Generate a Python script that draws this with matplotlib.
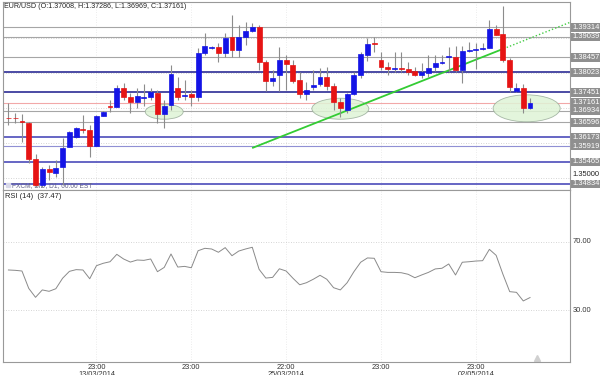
import numpy as np
import matplotlib.pyplot as plt
from matplotlib.patches import Ellipse

plt.rcParams['font.family'] = ['Liberation Sans', 'DejaVu Sans']

# daily candles
opens = [1.36720, 1.36718, 1.36643, 1.36586, 1.35539, 1.34804, 1.35253, 1.35156, 1.35327, 1.35899,
         1.36168, 1.36414, 1.36377, 1.35928, 1.36786, 1.37072, 1.37043, 1.37570, 1.37329, 1.37169,
         1.37292, 1.37329, 1.37436, 1.36835, 1.37092, 1.37570, 1.37358, 1.37398, 1.37329, 1.38588,
         1.38722, 1.38759, 1.38588, 1.39028, 1.38665, 1.39045, 1.39217, 1.39314, 1.38313, 1.37787,
         1.37950, 1.38379, 1.38236, 1.37807, 1.37398, 1.37615, 1.37693, 1.37884, 1.37644, 1.37186,
         1.36949, 1.37398, 1.37950, 1.38522, 1.38874, 1.38379, 1.38170, 1.38130, 1.38150, 1.38122,
         1.38064, 1.37950, 1.38016, 1.38187, 1.38302, 1.38456, 1.38473, 1.38093, 1.38636, 1.38665,
         1.38694, 1.38731, 1.39257, 1.39114, 1.38379, 1.37501, 1.37570, 1.37008]
highs = [1.37149, 1.36863, 1.36835, 1.36614, 1.35691, 1.35327, 1.35376, 1.35519, 1.36148, 1.36340,
         1.36471, 1.36806, 1.36520, 1.36806, 1.36920, 1.37235, 1.37665, 1.37713, 1.37427, 1.37570,
         1.37693, 1.37570, 1.37521, 1.37235, 1.38236, 1.37901, 1.37807, 1.37521, 1.38714, 1.39143,
         1.38779, 1.38865, 1.39143, 1.39666, 1.39380, 1.39474, 1.39429, 1.39380, 1.38379, 1.38093,
         1.38759, 1.38522, 1.38379, 1.38044, 1.37758, 1.38093, 1.38142, 1.38187, 1.37713, 1.37284,
         1.37427, 1.38044, 1.38616, 1.39000, 1.39045, 1.38616, 1.38330, 1.38616, 1.38616, 1.38330,
         1.38187, 1.38302, 1.38522, 1.38522, 1.38522, 1.38759, 1.38779, 1.38779, 1.38902, 1.38874,
         1.38874, 1.39523, 1.39380, 1.39923, 1.38428, 1.37730, 1.37693, 1.37286]
lows = [1.36520, 1.36577, 1.36042, 1.35433, 1.34747, 1.34747, 1.34947, 1.35041, 1.34805, 1.35890,
        1.36140, 1.36291, 1.35614, 1.35920, 1.36770, 1.36900, 1.37035, 1.37235, 1.36863, 1.37015,
        1.37063, 1.37235, 1.36586, 1.36443, 1.36949, 1.37235, 1.37235, 1.37063, 1.37206, 1.38522,
        1.38694, 1.38330, 1.38473, 1.38456, 1.38473, 1.38808, 1.39188, 1.38093, 1.37501, 1.37635,
        1.37501, 1.37521, 1.37721, 1.37284, 1.37235, 1.37521, 1.37635, 1.37521, 1.36949, 1.36740,
        1.36855, 1.37378, 1.37856, 1.38350, 1.38616, 1.38093, 1.37950, 1.38044, 1.38044, 1.37950,
        1.37921, 1.37856, 1.37884, 1.38073, 1.38265, 1.38044, 1.38044, 1.37730, 1.38608, 1.38113,
        1.38665, 1.38714, 1.39094, 1.38330, 1.37472, 1.37472, 1.36872, 1.36969]
closes = [1.36712, 1.36710, 1.36614, 1.35548, 1.34804, 1.35253, 1.35167, 1.35299, 1.35871, 1.36311,
          1.36434, 1.36377, 1.35928, 1.36777, 1.36892, 1.37043, 1.37570, 1.37329, 1.37169, 1.37349,
          1.37321, 1.37455, 1.36835, 1.37072, 1.37979, 1.37329, 1.37387, 1.37321, 1.38571, 1.38779,
          1.38742, 1.38588, 1.39017, 1.38665, 1.39028, 1.39208, 1.39314, 1.38330, 1.37779, 1.37856,
          1.38379, 1.38256, 1.37787, 1.37398, 1.37521, 1.37664, 1.37884, 1.37644, 1.37186, 1.37015,
          1.37398, 1.37941, 1.38542, 1.38837, 1.38845, 1.38187, 1.38130, 1.38150, 1.38130, 1.38044,
          1.37950, 1.38044, 1.38142, 1.38302, 1.38330, 1.38493, 1.38093, 1.38636, 1.38665, 1.38694,
          1.38722, 1.39257, 1.39094, 1.38379, 1.37598, 1.37570, 1.37015, 1.37161]

rsi = [53.5, 53.3, 52.9, 42.8, 37.6, 41.9, 41.1, 42.6, 48.7, 52.7,
       53.7, 53.5, 48.4, 56.0, 57.4, 58.3, 62.6, 59.9, 58.1, 59.3,
       59.1, 59.9, 52.5, 55.0, 62.8, 55.2, 55.6, 54.8, 64.7, 66.1,
       65.7, 63.8, 66.5, 61.8, 64.5, 65.7, 66.7, 53.9, 48.8, 49.2,
       54.2, 52.9, 48.7, 44.9, 46.1, 48.1, 50.4, 48.1, 43.2, 41.9,
       46.1, 52.5, 58.0, 60.5, 60.3, 52.5, 52.1, 52.1, 51.9, 51.0,
       49.0, 50.6, 52.1, 54.1, 54.5, 57.0, 50.6, 58.0, 58.3, 58.7,
       58.9, 65.5, 62.0, 51.0, 40.9, 40.5, 35.5, 37.47]

# support / resistance levels drawn across the chart
levels = [1.39314, 1.39039, 1.38457, 1.38023, 1.37451, 1.37161,
          1.36934, 1.36596, 1.36173, 1.35919, 1.35465, 1.34834]
level_kind = ['grey', 'grey', 'grey', 'navy', 'navy', 'last',
              'grey', 'grey', 'blue', 'lightblue', 'blue', 'blue']
grid_prices = [1.35, 1.36, 1.37, 1.38, 1.39]

# trend line (candle index, price) and highlighted zones
trend_start = (36.1, 1.35871)
trend_break = (72.6, 1.38665)
trend_end = (82.9, 1.39457)
zone_centres = [(23.0, 1.36900), (49.0, 1.36986), (76.5, 1.36998)]
zone_sizes = [(5.6, 0.00429), (8.4, 0.0060), (9.9, 0.0077)]

tick_idx = [13, 27, 41, 55, 69]
tick_labels = ['23:00\n13/03/2014', '23:00', '22:00\n25/03/2014', '23:00', '23:00\n02/05/2014']

kind_colors = {'grey': '#a6a6a6', 'navy': '#1a1a8c', 'last': '#f2a8a8',
               'blue': '#3c3cb4', 'lightblue': '#9090d4'}

x = np.arange(len(opens))
o = np.array(opens)
c = np.array(closes)
up = c >= o
body_col = np.where(up, '#1414e6', '#e61414')

fig = plt.figure(figsize=(6, 3.75), dpi=100)
ax = fig.add_axes([0.005, 0.4933, 0.945, 0.5013])
ax_rsi = fig.add_axes([0.005, 0.0347, 0.945, 0.4586], sharex=ax)

# price panel
for p in grid_prices:
    ax.axhline(p, color='#c8c8c8', lw=0.6, ls=(0, (1, 2)), zorder=0)
for t in tick_idx:
    ax.axvline(t, color='#e6e6e6', lw=0.6, ls=(0, (1, 2)), zorder=0)
for p, k in zip(levels, level_kind):
    lw = 1.1 if k in ('navy', 'blue') else 0.8
    ax.axhline(p, color=kind_colors[k], lw=lw, zorder=1)

for (cx, cy), (w, h) in zip(zone_centres, zone_sizes):
    ax.add_patch(Ellipse((cx, cy), w, h, facecolor='#dff4d6', edgecolor='#98ac98',
                         lw=0.6, alpha=0.85, zorder=2))

ax.plot([trend_start[0], trend_break[0]], [trend_start[1], trend_break[1]],
        color='#33cc33', lw=1.3, zorder=3)
ax.plot([trend_break[0], trend_end[0]], [trend_break[1], trend_end[1]],
        color='#44cc44', lw=1.0, ls=(0, (1, 1.5)), zorder=3)

ax.vlines(x, lows, highs, color='#8c8c8c', lw=0.8, zorder=4)
ax.bar(x, np.abs(c - o), bottom=np.minimum(o, c), width=0.72, color=body_col,
       edgecolor=body_col, linewidth=0.5, zorder=5)

ax.set_xlim(-0.8, 82.9)
ax.set_ylim(1.34661, 1.40038)
ax.set_xticks(tick_idx)
ax.tick_params(axis='x', labelbottom=False, length=0)
ax.set_yticks([])
for s in ax.spines.values():
    s.set_color('#999999')
    s.set_linewidth(0.8)

ytr = ax.get_yaxis_transform()
for p in levels:
    ax.text(1.004, p, f'{p:.5f}', transform=ytr, ha='left', va='center', fontsize=5.4,
            color='white', bbox=dict(boxstyle='square,pad=0.12', fc='#8f8f8f', ec='none'),
            clip_on=False)
ax.text(1.004, 1.35, '1.35000', transform=ytr, ha='left', va='bottom', fontsize=5.4,
        color='#222222', clip_on=False)

ax.text(0.002, 0.975, 'EUR/USD (O:1.37008, H:1.37286, L:1.36969, C:1.37161)',
        transform=ax.transAxes, ha='left', va='center', fontsize=5.1, color='#222222')
ax.text(0.016, 0.025, 'FXCM, BID, D1, 00:00 EST', transform=ax.transAxes,
        ha='left', va='center', fontsize=4.8, color='#666688')
ax.plot([0.009], [0.025], marker='s', ms=3, color='#d8d8e8', transform=ax.transAxes,
        clip_on=False)

# RSI panel
ax_rsi.plot(x, rsi, color='#8a8a8a', lw=0.7)
for lvl in (70, 30):
    ax_rsi.axhline(lvl, color='#c8c8c8', lw=0.6, ls=(0, (1, 2)))
for t in tick_idx:
    ax_rsi.axvline(t, color='#e6e6e6', lw=0.6, ls=(0, (1, 2)), zorder=0)
ax_rsi.set_ylim(0, 100)
ax_rsi.set_yticks([])
ax_rsi.set_xticks(tick_idx)
ax_rsi.set_xticklabels(tick_labels, fontsize=5.3, color='#333333', linespacing=1.0, va='top')
ax_rsi.tick_params(axis='x', length=0, pad=1.5)
for s in ax_rsi.spines.values():
    s.set_color('#999999')
    s.set_linewidth(0.8)
rtr = ax_rsi.get_yaxis_transform()
for lvl in (70, 30):
    ax_rsi.text(1.004, lvl, f'{lvl:.2f}', transform=rtr, ha='left', va='center',
                fontsize=5.4, color='#333333', clip_on=False)
ax_rsi.text(0.003, 0.965, 'RSI (14)  (37.47)', transform=ax_rsi.transAxes,
            ha='left', va='center', fontsize=5.4, color='#222222')
ax_rsi.plot([78.0], [2.5], marker='^', ms=5, color='#d0d0d0', clip_on=False)

fig.savefig('out.png', dpi=100)
